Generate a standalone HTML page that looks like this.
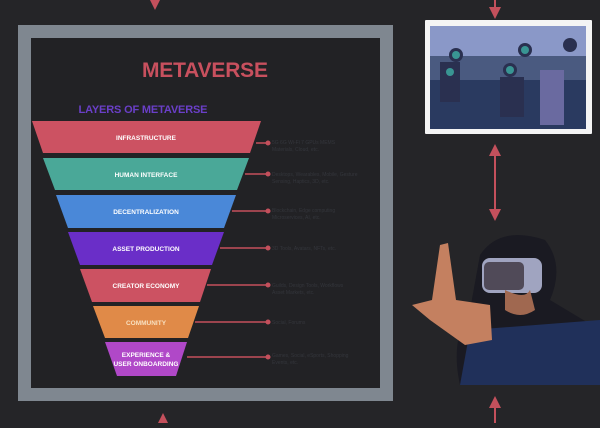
<!DOCTYPE html><html><head><style>
body{margin:0;width:600px;height:423px;background:#252528;overflow:hidden;font-family:"Liberation Sans",sans-serif}
</style></head><body>
<svg width="600" height="423" viewBox="0 0 600 423" xmlns="http://www.w3.org/2000/svg">
<defs><marker id="a" viewBox="0 0 10 10" refX="5" refY="5" markerWidth="6" markerHeight="6" orient="auto-start-reverse"><path d="M0,0 L10,5 L0,10 z" fill="#c4505c"/></marker></defs>
<rect x="18" y="25" width="375" height="376" fill="#7f8790"/>
<rect x="31" y="38" width="349" height="350" fill="#222225"/>
<text x="205" y="77" text-anchor="middle" font-size="21" font-weight="bold" fill="#c8505e" textLength="126">METAVERSE</text>
<text x="143" y="113" text-anchor="middle" font-size="11" font-weight="bold" fill="#6a3fc8" textLength="129">LAYERS OF METAVERSE</text>
<g font-size="6.5" font-weight="bold" fill="#fff" text-anchor="middle">
<polygon points="32,121 261,121 250,153 43,153" fill="#cc5262"/><text x="146" y="140">INFRASTRUCTURE</text>
<polygon points="43,158 249,158 237,190 55,190" fill="#4aa898"/><text x="146" y="177">HUMAN INTERFACE</text>
<polygon points="56,195 236,195 224,228 68,228" fill="#4a88d8"/><text x="146" y="214">DECENTRALIZATION</text>
<polygon points="68,232 224,232 212,265 80,265" fill="#6a2ec8"/><text x="146" y="251">ASSET PRODUCTION</text>
<polygon points="80,269 211,269 200,302 92,302" fill="#cc5262"/><text x="146" y="288">CREATOR ECONOMY</text>
<polygon points="93,306 199,306 188,338 105,338" fill="#e08a48"/><text x="146" y="325" fill="#f8e0c0">COMMUNITY</text>
<polygon points="105,342 187,342 176,376 117,376" fill="#b048c8"/><text x="146" y="357">EXPERIENCE &amp;</text><text x="146" y="366">USER ONBOARDING</text>
</g>
<g stroke="#c4505c" stroke-width="1.5" fill="#c4505c">
<line x1="256" y1="143" x2="268" y2="143"/><circle cx="268" cy="143" r="1.8"/>
<line x1="245" y1="174" x2="268" y2="174"/><circle cx="268" cy="174" r="1.8"/>
<line x1="232" y1="211" x2="268" y2="211"/><circle cx="268" cy="211" r="1.8"/>
<line x1="220" y1="248" x2="268" y2="248"/><circle cx="268" cy="248" r="1.8"/>
<line x1="207" y1="285" x2="268" y2="285"/><circle cx="268" cy="285" r="1.8"/>
<line x1="195" y1="322" x2="268" y2="322"/><circle cx="268" cy="322" r="1.8"/>
<line x1="187" y1="357" x2="268" y2="357"/><circle cx="268" cy="357" r="1.8"/>
</g>
<g font-size="5" fill="#34363c">
<text x="272" y="144">5G 6G Wi-Fi 7 GPUs MEMS</text><text x="272" y="151">Materials, Cloud, etc.</text>
<text x="272" y="176">Desktops, Wearables, Mobile, Gesture</text><text x="272" y="183">Sensing, Haptics, 3D, etc.</text>
<text x="272" y="212">Blockchain, Edge computing</text><text x="272" y="219">Microservices, AI, etc.</text>
<text x="272" y="250">3D Tools, Avatars, NFTs, etc.</text>
<text x="272" y="287">Guilds, Design Tools, Workflows</text><text x="272" y="294">Asset Markets, etc.</text>
<text x="272" y="324">Social, Forums</text>
<text x="272" y="357">Games, Social, eSports, Shopping</text><text x="272" y="364">Events, etc.</text>
</g>
<g stroke="#c4505c" stroke-width="2">
<line x1="155" y1="0" x2="155" y2="4" marker-end="url(#a)"/>
<line x1="495" y1="0" x2="495" y2="13" marker-end="url(#a)"/>
<line x1="495" y1="150" x2="495" y2="215" marker-start="url(#a)" marker-end="url(#a)"/>
<line x1="495" y1="423" x2="495" y2="402" marker-end="url(#a)"/>
<line x1="163" y1="423" x2="163" y2="419" marker-end="url(#a)"/>
</g>
<rect x="425" y="20" width="167" height="114" fill="#f4f4f4" rx="1"/>
<rect x="430" y="26" width="156" height="103" fill="#4a5a80"/>
<rect x="430" y="26" width="156" height="30" fill="#8a98c8"/>
<rect x="430" y="80" width="156" height="49" fill="#2a3a60"/>
<g fill="#2a3050"><circle cx="456" cy="55" r="7"/><circle cx="525" cy="50" r="7"/><circle cx="510" cy="70" r="7"/><circle cx="570" cy="45" r="7"/><circle cx="450" cy="72" r="6"/><rect x="440" y="62" width="20" height="40"/><rect x="500" y="77" width="24" height="40"/><rect x="540" y="70" width="24" height="55" fill="#6a6aa0"/></g>
<g fill="#40c0b0" opacity=".7"><circle cx="456" cy="55" r="4"/><circle cx="525" cy="50" r="4"/><circle cx="510" cy="70" r="4"/><circle cx="450" cy="72" r="4"/></g>
<path d="M480,255 Q500,225 545,240 Q565,265 550,300 L600,330 L600,385 L460,385 Q450,340 470,310 Z" fill="#1a1a22"/>
<path d="M470,330 L600,320 L600,385 L460,385 Z" fill="#20305a"/>
<rect x="482" y="258" width="60" height="35" rx="8" fill="#a0a4c0"/>
<rect x="484" y="262" width="40" height="28" rx="5" fill="#504a58"/>
<path d="M440,245 L448,243 L456,300 L490,305 L492,340 L465,345 L430,320 L412,305 L432,300 Z" fill="#c48060"/>
<path d="M505,290 Q525,300 530,290 L535,310 Q520,320 505,310 Z" fill="#a06850"/>
</svg>
</body></html>
